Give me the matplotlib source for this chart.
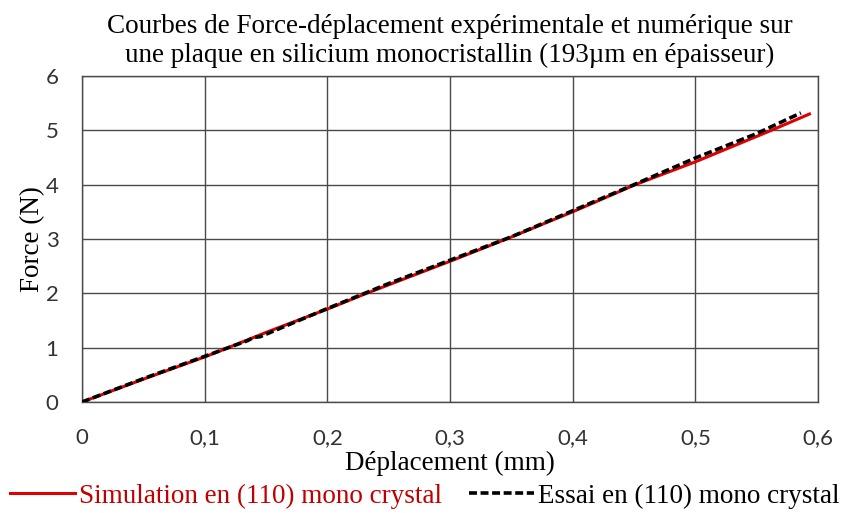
import matplotlib
matplotlib.use("Agg")
import matplotlib.pyplot as plt
from matplotlib.ticker import FuncFormatter

# simulation (110) mono crystal
sim_x = [0, 0.05, 0.1, 0.1126, 0.15, 0.2, 0.232, 0.3, 0.346, 0.4, 0.451, 0.5, 0.562, 0.593]
sim_f = [0, 0.42, 0.83, 0.94, 1.28, 1.71, 2.0, 2.59, 3.0, 3.5, 4.0, 4.42, 5.0, 5.30]

# essai (110) mono crystal
exp_x = [0, 0.05, 0.1, 0.135, 0.14, 0.145, 0.2, 0.25, 0.3, 0.35, 0.4, 0.45, 0.5, 0.55, 0.586]
exp_f = [0, 0.43, 0.84, 1.13, 1.19, 1.20, 1.72, 2.18, 2.61, 3.04, 3.52, 4.00, 4.49, 4.94, 5.32]

xticks = [0, 0.1, 0.2, 0.3, 0.4, 0.5, 0.6]
yticks = [0, 1, 2, 3, 4, 5, 6]

serif = "Liberation Serif"
tick_font = "Lato"

fig = plt.figure(figsize=(8.5, 5.13), dpi=100)
ax = fig.add_axes([0.0965, 0.2164, 0.8659, 0.6355])

ax.plot(sim_x, sim_f, color="#E00000", lw=2.2, label="Simulation en (110) mono crystal", zorder=3)
ax.plot(exp_x, exp_f, color="black", lw=2.6, ls=(0, (2.2, 1.0)), label="Essai en (110) mono crystal", zorder=4)

ax.set_xlim(0, 0.6)
ax.set_ylim(0, 6)
ax.set_xticks(xticks)
ax.set_yticks(yticks)
ax.xaxis.set_major_formatter(FuncFormatter(lambda v, p: ("%g" % v).replace(".", ",")))
ax.grid(True, color="#4a4a4a", lw=1.0)
ax.set_axisbelow(True)
for s in ax.spines.values():
    s.set_color("#4a4a4a")
    s.set_linewidth(1.0)
ax.tick_params(length=0, labelsize=16, colors="#333333")
ax.tick_params(axis="x", pad=19)
ax.tick_params(axis="y", pad=17)
for lab in ax.get_xticklabels() + ax.get_yticklabels():
    lab.set_family(tick_font)

ax.set_title("Courbes de Force-déplacement expérimentale et numérique sur\n"
             "une plaque en silicium monocristallin (193µm en épaisseur)",
             family=serif, fontsize=19.5, pad=10)
ax.set_xlabel("Déplacement (mm)", family=serif, fontsize=19.5, labelpad=2)
ax.set_ylabel("Force (N)", family=serif, fontsize=19.5, labelpad=0)

leg = fig.legend(loc="center", bbox_to_anchor=(0.5, 0.033), ncol=2, frameon=False,
                 prop={"family": serif, "size": 19.5}, handlelength=2.4,
                 handletextpad=0.15, columnspacing=1.0, borderpad=0)
leg.get_texts()[0].set_color("#C00000")

fig.savefig("out.png", dpi=100)
